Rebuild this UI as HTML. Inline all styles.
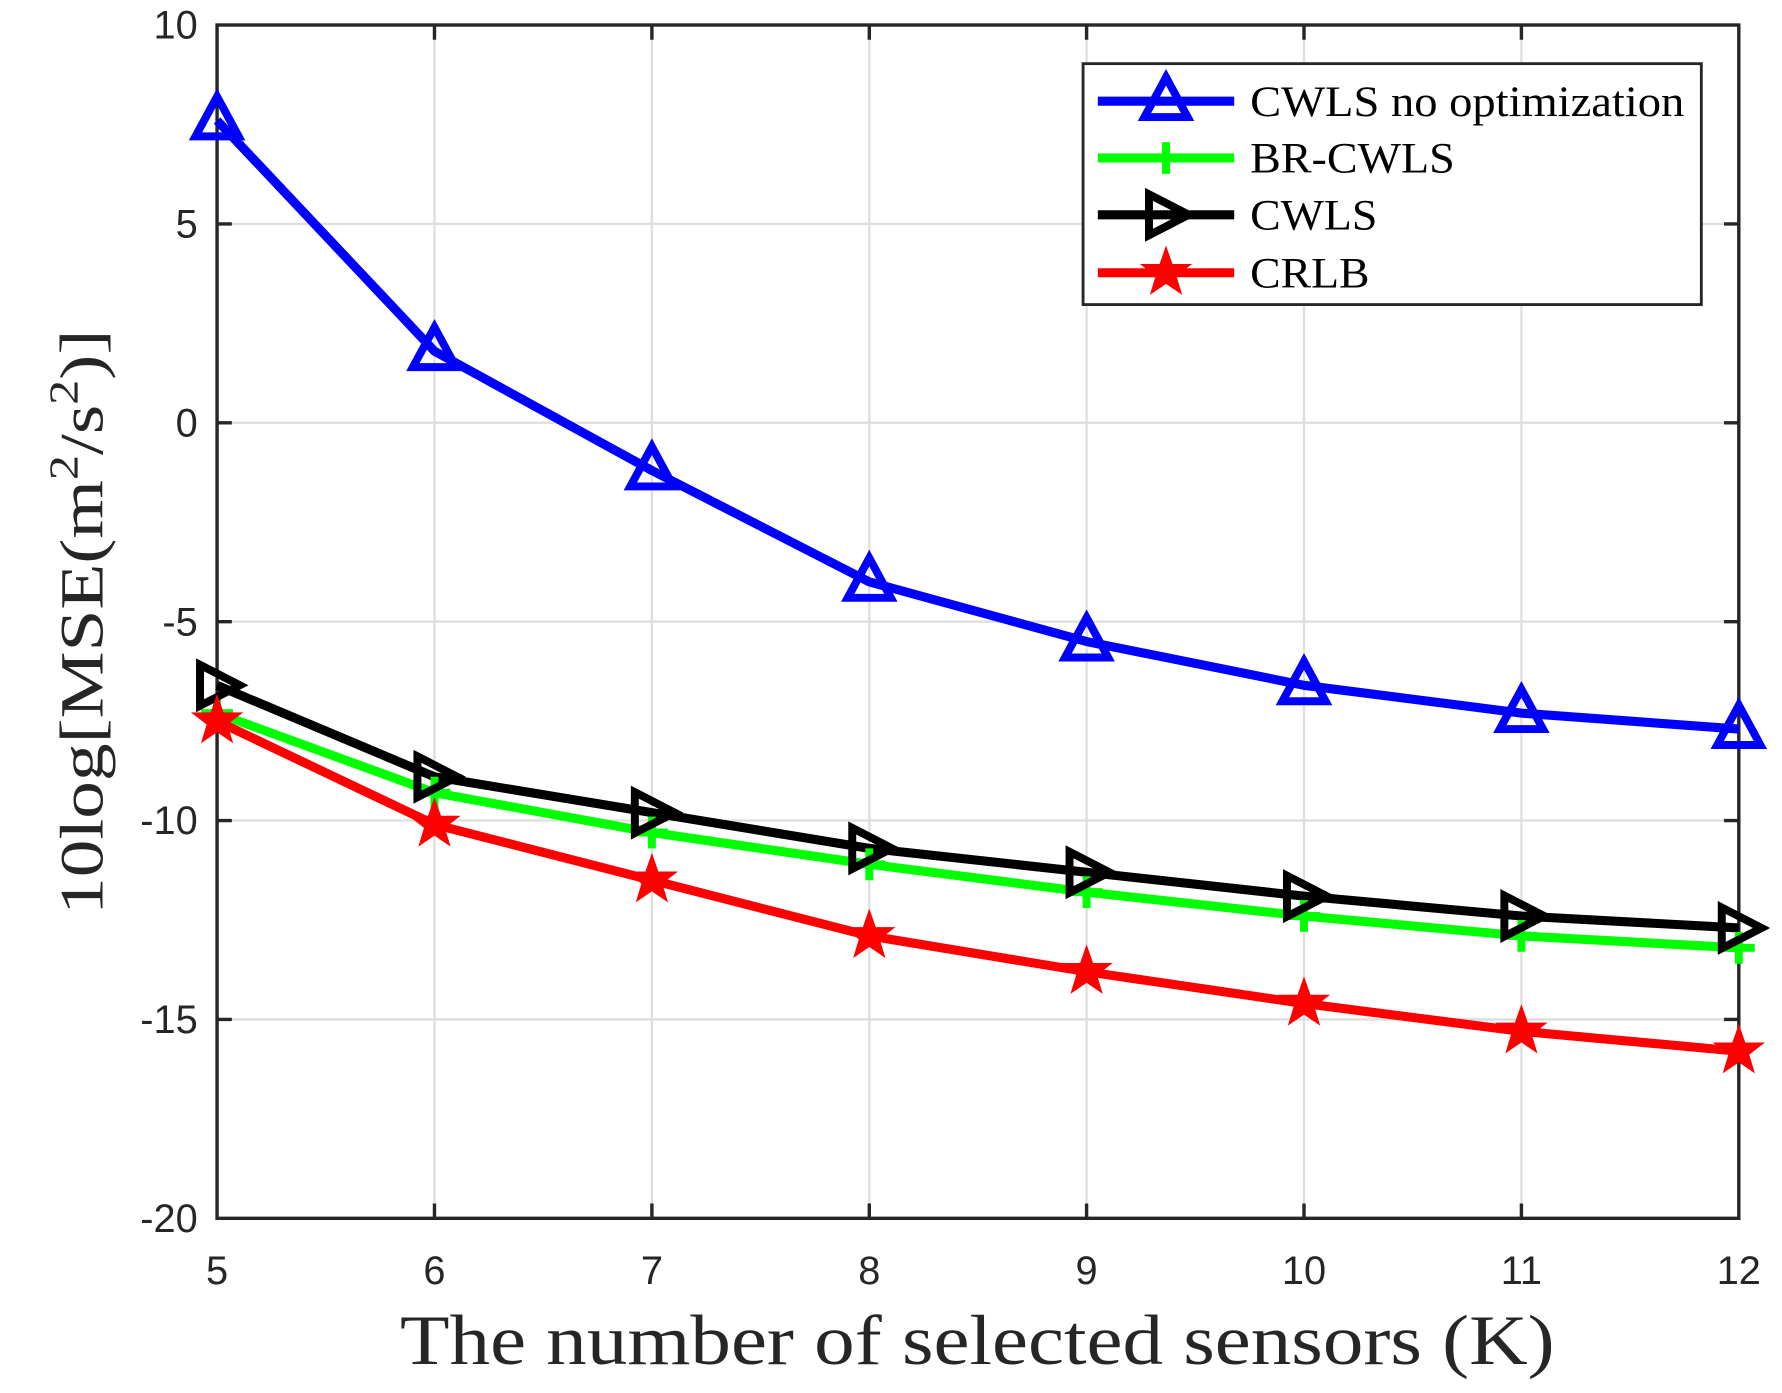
<!DOCTYPE html>
<html><head><style>body{margin:0;background:#fff}svg{display:block}</style></head><body>
<svg width="1782" height="1393" viewBox="0 0 1568 1225.7" xmlns="http://www.w3.org/2000/svg">
<rect width="1568" height="1226" fill="#fff"/>
<g stroke="#dedede" stroke-width="2">
<line x1="382.3" y1="22" x2="382.3" y2="1072"/><line x1="573.6" y1="22" x2="573.6" y2="1072"/><line x1="764.9" y1="22" x2="764.9" y2="1072"/><line x1="956.1" y1="22" x2="956.1" y2="1072"/><line x1="1147.4" y1="22" x2="1147.4" y2="1072"/><line x1="1338.7" y1="22" x2="1338.7" y2="1072"/>
<line x1="191" y1="197" x2="1530" y2="197"/><line x1="191" y1="372" x2="1530" y2="372"/><line x1="191" y1="547" x2="1530" y2="547"/><line x1="191" y1="722" x2="1530" y2="722"/><line x1="191" y1="897" x2="1530" y2="897"/>
</g>
<g stroke="#262626" stroke-width="3">
<rect x="191" y="22" width="1339" height="1050" fill="none"/>
<path d="M382.3 1072v-13M573.6 1072v-13M764.9 1072v-13M956.1 1072v-13M1147.4 1072v-13M1338.7 1072v-13M382.3 22v13M573.6 22v13M764.9 22v13M956.1 22v13M1147.4 22v13M1338.7 22v13M191 197h13M191 372h13M191 547h13M191 722h13M191 897h13M1530 197h-13M1530 372h-13M1530 547h-13M1530 722h-13M1530 897h-13"/>
</g>
<g font-family="Liberation Sans, sans-serif" font-size="35" fill="#262626" text-anchor="middle">
<text x="191" y="1130">5</text><text x="382.3" y="1130">6</text><text x="573.6" y="1130">7</text><text x="764.9" y="1130">8</text><text x="956.1" y="1130">9</text><text x="1147.4" y="1130">10</text><text x="1338.7" y="1130">11</text><text x="1530" y="1130">12</text>
</g>
<g font-family="Liberation Sans, sans-serif" font-size="35" fill="#262626" text-anchor="end">
<text x="174" y="34">10</text><text x="174" y="209">5</text><text x="174" y="384">0</text><text x="174" y="559">-5</text><text x="174" y="734">-10</text><text x="174" y="909">-15</text><text x="174" y="1084">-20</text>
</g>
<text x="352" y="1200" textLength="1016" lengthAdjust="spacingAndGlyphs" font-family="Liberation Serif, serif" font-size="62" fill="#262626">The number of selected sensors (K)</text>
<text transform="translate(90,805) rotate(-90)" textLength="515" lengthAdjust="spacingAndGlyphs" font-family="Liberation Serif, serif" font-size="54" fill="#262626">10log[MSE(m<tspan font-size="36" dy="-22">2</tspan><tspan dy="22">/s</tspan><tspan font-size="36" dy="-22">2</tspan><tspan dy="22">)]</tspan></text>
<defs>
<path id="tri" d="M0 -21 L19 14 L-19 14 Z" fill="none" stroke="#0000ff" stroke-width="7"/>
<path id="plus" d="M0 -14V14M-14 0H14" stroke="#00ff00" stroke-width="7"/>
<path id="rtri" d="M-15 -18 L20 0 L-15 18 Z" fill="none" stroke="#000" stroke-width="7"/>
<path id="star" d="M0 -24 L5.7 -7.7 L23 -7.7 L9.2 3 L14.2 19.5 L0 9.8 L-14.2 19.5 L-9.2 3 L-23 -7.7 L-5.7 -7.7 Z" fill="#ff0000"/>
</defs>
<g fill="none" stroke-width="8" stroke-linejoin="round">
<polyline stroke="#00ff00" points="191,627.5 382.3,697.5 573.6,732.5 764.9,760.5 956.1,785 1147.4,806 1338.7,823.5 1530,834"/>
<polyline stroke="#000" points="191,603 382.3,683.5 573.6,715 764.9,746.5 956.1,767.5 1147.4,788.5 1338.7,806 1530,816.5"/>
<polyline stroke="#ff0000" points="191,634.5 382.3,725.5 573.6,774.5 764.9,823.5 956.1,855 1147.4,883 1338.7,907.5 1530,925"/>
<polyline stroke="#0000ff" points="191,106 382.3,309 573.6,414 764.9,512 956.1,564.5 1147.4,603 1338.7,627.5 1530,641.5"/>
</g>
<g>
<use href="#plus" x="191" y="627.5"/><use href="#plus" x="382.3" y="697.5"/><use href="#plus" x="573.6" y="732.5"/><use href="#plus" x="764.9" y="760.5"/><use href="#plus" x="956.1" y="785"/><use href="#plus" x="1147.4" y="806"/><use href="#plus" x="1338.7" y="823.5"/><use href="#plus" x="1530" y="834"/>
<use href="#rtri" x="191" y="603"/><use href="#rtri" x="382.3" y="683.5"/><use href="#rtri" x="573.6" y="715"/><use href="#rtri" x="764.9" y="746.5"/><use href="#rtri" x="956.1" y="767.5"/><use href="#rtri" x="1147.4" y="788.5"/><use href="#rtri" x="1338.7" y="806"/><use href="#rtri" x="1530" y="816.5"/>
<use href="#star" x="191" y="634.5"/><use href="#star" x="382.3" y="725.5"/><use href="#star" x="573.6" y="774.5"/><use href="#star" x="764.9" y="823.5"/><use href="#star" x="956.1" y="855"/><use href="#star" x="1147.4" y="883"/><use href="#star" x="1338.7" y="907.5"/><use href="#star" x="1530" y="925"/>
<use href="#tri" x="191" y="106"/><use href="#tri" x="382.3" y="309"/><use href="#tri" x="573.6" y="414"/><use href="#tri" x="764.9" y="512"/><use href="#tri" x="956.1" y="564.5"/><use href="#tri" x="1147.4" y="603"/><use href="#tri" x="1338.7" y="627.5"/><use href="#tri" x="1530" y="641.5"/>
</g>
<rect x="953" y="56" width="544" height="212" fill="#fff" stroke="#262626" stroke-width="2.5"/>
<g stroke-width="8">
<line x1="966" y1="89" x2="1086" y2="89" stroke="#0000ff"/><use href="#tri" x="1026" y="89"/>
<line x1="966" y1="139" x2="1086" y2="139" stroke="#00ff00"/><use href="#plus" x="1026" y="139"/>
<line x1="966" y1="189" x2="1086" y2="189" stroke="#000"/><use href="#rtri" x="1026" y="189"/>
<line x1="966" y1="240" x2="1086" y2="240" stroke="#ff0000"/><use href="#star" x="1026" y="240"/>
</g>
<g font-family="Liberation Serif, serif" font-size="38" fill="#000">
<text x="1100" y="102" textLength="382" lengthAdjust="spacingAndGlyphs">CWLS no optimization</text><text x="1100" y="152" textLength="180" lengthAdjust="spacingAndGlyphs">BR-CWLS</text><text x="1100" y="202" textLength="112" lengthAdjust="spacingAndGlyphs">CWLS</text><text x="1100" y="253" textLength="105" lengthAdjust="spacingAndGlyphs">CRLB</text>
</g>
</svg>
</body></html>
